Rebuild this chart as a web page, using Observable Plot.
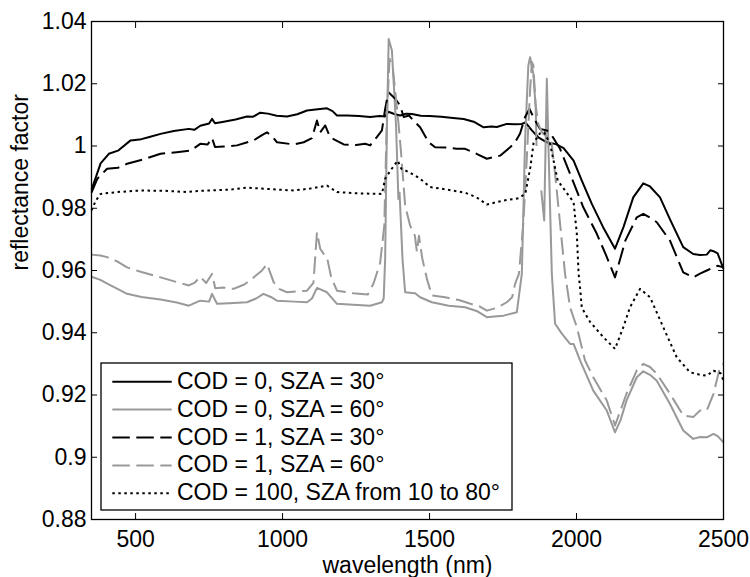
<!DOCTYPE html>
<html><head><meta charset="utf-8">
<script src="https://cdn.jsdelivr.net/npm/d3@7"></script>
<script src="https://cdn.jsdelivr.net/npm/@observablehq/plot@0.6"></script>
<style>
body{margin:0;background:#fff}
svg{font-family:"Liberation Sans",Arial,Helvetica,sans-serif}
</style>
</head><body><div id="chart"></div>
<script>
// ---- data ----
const xTicks = [500, 1000, 1500, 2000, 2500];
const yTicks = [0.88, 0.9, 0.92, 0.94, 0.96, 0.98, 1, 1.02, 1.04];
const xLabel = "wavelength (nm)";
const yLabel = "reflectance factor";
const seriesNames = [
  "COD = 0, SZA = 30°",
  "COD = 0, SZA = 60°",
  "COD = 1, SZA = 30°",
  "COD = 1, SZA = 60°",
  "COD = 100, SZA from 10 to 80°"
];

// [wavelength nm, reflectance factor]
const cod0sza30 = [
  [350,0.986],[365,0.990],[381,0.9944],[409,0.9975],[440,0.9985],[483,1.0018],[520,1.0022],[550,1.0030],
  [585,1.0039],[630,1.0048],[681,1.0055],[700,1.0052],[720,1.0065],[750,1.0072],[760,1.0087],[770,1.0073],
  [800,1.0078],[840,1.0085],[879,1.0095],[900,1.0094],[924,1.0107],[950,1.0104],[980,1.0097],[1015,1.0095],
  [1050,1.0102],[1083,1.0114],[1120,1.0118],[1151,1.0121],[1170,1.0112],[1185,1.0098],[1220,1.0098],
  [1260,1.0096],[1298,1.0093],[1330,1.0096],[1349,1.0095],[1360,1.0110],[1380,1.0103],[1400,1.0098],
  [1420,1.0104],[1440,1.0103],[1470,1.0097],[1500,1.0096],[1540,1.0094],[1580,1.0090],[1616,1.0087],
  [1650,1.0078],[1684,1.0060],[1710,1.0063],[1729,1.0061],[1763,1.0071],[1790,1.0070],[1814,1.0071],
  [1826,1.0076],[1848,1.0050],[1870,1.0028],[1899,1.0012],[1930,1.0006],[1956,0.9993],[1990,0.9953],
  [2018,0.9889],[2052,0.9814],[2090,0.9740],[2131,0.9670],[2160,0.9740],[2193,0.9835],[2227,0.9880],
  [2250,0.9870],[2284,0.9835],[2320,0.9760],[2363,0.9675],[2397,0.9653],[2420,0.9650],[2443,0.9651],
  [2455,0.9665],[2466,0.9662],[2480,0.9655],[2500,0.9605]
];
const cod0sza60 = [
  [350,0.9580],[380,0.9570],[415,0.9552],[440,0.9540],[471,0.9525],[520,0.9515],[585,0.9507],[640,0.9497],
  [681,0.9487],[720,0.9503],[750,0.9500],[760,0.9525],[777,0.9493],[820,0.9495],[879,0.9498],[910,0.9510],
  [935,0.9525],[960,0.9515],[981,0.9503],[1040,0.9500],[1083,0.9498],[1100,0.9510],[1117,0.9544],
  [1151,0.9530],[1185,0.9493],[1240,0.9490],[1298,0.9487],[1338,0.9498],[1344,0.9510],[1349,0.9638],
  [1355,1.0066],[1361,1.0344],[1372,1.0307],[1386,1.0066],[1394,0.9830],[1398,0.9850],[1408,0.9637],
  [1417,0.9530],[1440,0.9528],[1451,0.9527],[1468,0.9514],[1508,0.9498],[1565,0.9487],[1621,0.9482],
  [1660,0.9470],[1695,0.9450],[1720,0.9452],[1752,0.9455],[1797,0.9466],[1814,0.9590],[1825,1.0018],
  [1836,1.0258],[1842,1.0285],[1853,1.0232],[1861,1.0125],[1864,1.0000],[1870,null],[1880,0.9857],
  [1890,0.9761],[1899,1.0216],[1904,1.0018],[1910,0.9803],[1916,0.9589],[1927,0.9429],[1950,0.9397],
  [1978,0.9364],[1990,0.9364],[2012,0.9311],[2057,0.9214],[2103,0.9150],[2131,0.9080],[2150,0.9120],
  [2170,0.9182],[2205,0.9257],[2227,0.9276],[2250,0.9265],[2273,0.9246],[2318,0.9171],[2363,0.9086],
  [2397,0.9059],[2420,0.9065],[2443,0.9064],[2466,0.9075],[2480,0.9068],[2500,0.9048]
];
const cod1sza30 = [
  [350,0.985],[370,0.9895],[403,0.9927],[440,0.9930],[471,0.9943],[530,0.9958],[585,0.9975],[640,0.9980],
  [687,0.9985],[720,1.0007],[745,1.0005],[760,1.0026],[770,0.9997],[800,0.9998],[845,1.0002],[902,1.0018],
  [930,1.0035],[947,1.0044],[965,1.0030],[981,1.0012],[1038,1.0005],[1072,1.0012],[1100,1.0025],
  [1117,1.0082],[1128,1.0044],[1145,1.0066],[1162,1.0028],[1208,1.0005],[1250,1.0003],[1281,1.0007],
  [1298,1.0002],[1320,1.0028],[1338,1.0050],[1349,1.0119],[1360,1.0173],[1383,1.0152],[1400,1.0130],
  [1412,1.0093],[1430,1.0098],[1451,1.0076],[1468,1.0060],[1497,1.0012],[1519,0.9996],[1560,0.9995],
  [1593,0.9991],[1621,0.9991],[1660,0.9975],[1695,0.9959],[1740,0.9969],[1774,0.9996],[1790,1.0010],
  [1808,1.0040],[1825,1.0093],[1840,1.0119],[1859,1.0082],[1876,1.0055],[1899,1.0050],[1916,1.0034],
  [1944,0.9991],[1978,0.9911],[2023,0.9803],[2069,0.9718],[2100,0.9650],[2131,0.9578],[2166,0.9696],
  [2205,0.9771],[2227,0.9782],[2250,0.9770],[2273,0.9755],[2318,0.9696],[2363,0.9594],[2397,0.9578],
  [2420,0.9590],[2443,0.9600],[2466,0.9610],[2480,0.9615],[2500,0.9610]
];
const cod1sza60 = [
  [350,0.9651],[380,0.9648],[403,0.9643],[440,0.9628],[471,0.9610],[520,0.9595],[585,0.9578],[640,0.9563],
  [681,0.9552],[700,0.9560],[720,0.9580],[740,0.9560],[760,0.9589],[771,0.9543],[800,0.9545],[833,0.9541],
  [870,0.9555],[902,0.9578],[930,0.9600],[947,0.9621],[970,0.9562],[990,0.9540],[1015,0.9530],
  [1050,0.9533],[1083,0.9535],[1105,0.9560],[1117,0.9723],[1128,0.9670],[1140,0.9653],[1151,0.9643],
  [1165,0.9580],[1185,0.9535],[1240,0.9527],[1290,0.9523],[1310,0.9560],[1332,0.9625],[1346,0.9744],
  [1355,1.0100],[1364,1.0280],[1375,1.0250],[1386,1.0150],[1394,1.0076],[1403,0.9980],[1417,0.9809],
  [1434,0.9744],[1450,0.9712],[1457,0.9660],[1464,0.9712],[1475,0.9640],[1491,0.9573],[1508,0.9520],
  [1553,0.9514],[1600,0.9505],[1639,0.9493],[1670,0.9485],[1695,0.9471],[1729,0.9480],[1763,0.9498],
  [1781,0.9514],[1791,0.9557],[1804,0.9589],[1819,0.9751],[1831,0.9964],[1842,1.0178],[1848,1.0270],
  [1853,1.0260],[1861,1.0131],[1870,1.0070],[1885,1.0040],[1900,1.0030],[1915,1.0010],[1927,0.9911],
  [1944,0.9751],[1961,0.9589],[1978,0.9482],[2001,0.9418],[2029,0.9311],[2057,0.9257],[2103,0.9182],
  [2131,0.9102],[2170,0.9204],[2205,0.9279],[2227,0.9300],[2250,0.9290],[2273,0.9268],[2318,0.9204],
  [2363,0.9134],[2397,0.9129],[2420,0.9150],[2443,0.9150],[2466,0.9204],[2488,0.9289],[2500,0.9300]
];
const cod100 = [
  [350,0.9793],[365,0.9825],[381,0.9846],[437,0.9852],[517,0.9857],[600,0.9856],[676,0.9852],[720,0.9856],
  [755,0.9857],[820,0.9860],[879,0.9866],[950,0.9862],[1038,0.9857],[1100,0.9864],[1151,0.9873],
  [1185,0.9852],[1250,0.9848],[1338,0.9846],[1349,0.9895],[1370,0.9925],[1392,0.9953],[1404,0.9927],
  [1430,0.9916],[1468,0.9895],[1502,0.9868],[1560,0.9860],[1621,0.9850],[1660,0.9835],[1695,0.9812],
  [1752,0.9825],[1803,0.9832],[1826,0.9847],[1843,0.9932],[1854,1.0010],[1875,1.0040],[1890,1.0044],
  [1910,1.0007],[1936,0.9889],[1978,0.9835],[1990,0.9820],[2001,0.9718],[2007,0.9590],[2012,0.9546],
  [2018,0.9480],[2046,0.9435],[2091,0.9386],[2131,0.9348],[2160,0.9420],[2182,0.9482],[2216,0.9541],
  [2250,0.9514],[2295,0.9418],[2341,0.9321],[2386,0.9273],[2420,0.9265],[2443,0.9262],[2466,0.9278],
  [2490,0.9270],[2500,0.9246]
];

// ---- styles ----
const GRAY = "#999999";
const styles = [
  {stroke: "#000", dash: null},
  {stroke: GRAY, dash: null},
  {stroke: "#000", dash: "17.5,6.5"},
  {stroke: GRAY, dash: "17.5,6.5"},
  {stroke: "#000", dash: "2.5,3.5"}
];
const allSeries = [cod0sza30, cod0sza60, cod1sza30, cod1sza60, cod100];
const toRows = arr => arr.map(([w, v]) => ({w, v}));

const fmtY = d => String(+d.toFixed(2));
const fmtX = d => String(d);

const plot = Plot.plot({
  width: 750,
  height: 577,
  marginLeft: 91,
  marginRight: 27,
  marginTop: 21,
  marginBottom: 58,
  style: {fontFamily: "'Liberation Sans', Arial, Helvetica, sans-serif", fontSize: "23px", background: "#fff", color: "#000"},
  x: {domain: [350, 2500]},
  y: {domain: [0.88, 1.04]},
  marks: [
    ...allSeries.map((s, i) => Plot.line(toRows(s), {
      x: "w", y: "v", stroke: styles[i].stroke, strokeWidth: 2,
      strokeDasharray: styles[i].dash ?? undefined, strokeLinejoin: "round", strokeLinecap: "butt"
    })),
    Plot.frame({stroke: "#000", strokeWidth: 1.3}),
    Plot.axisX(xTicks, {anchor: "bottom", tickSize: -6, tickPadding: 17, tickFormat: fmtX, label: null, fontSize: 23}),
    Plot.axisX(xTicks, {anchor: "top", tickSize: -6, tickFormat: () => "", label: null}),
    Plot.axisY(yTicks, {anchor: "left", tickSize: -6, tickPadding: 11, tickFormat: fmtY, label: null, fontSize: 23}),
    Plot.axisY(yTicks, {anchor: "right", tickSize: -6, tickFormat: () => "", label: null}),
    Plot.text([xLabel], {text: d => d, frameAnchor: "bottom", dy: 53, fontSize: 23}),
    Plot.text([yLabel], {text: d => d, frameAnchor: "left", rotate: -90, dx: -71, fontSize: 23})
  ]
});

// ---- legend inside the axes (lower left) ----
const svg = d3.select(plot);
const lg = svg.append("g").attr("class", "legend").attr("text-anchor", "start");
lg.append("rect")
  .attr("x", 101).attr("y", 363).attr("width", 411).attr("height", 147)
  .attr("fill", "#fff").attr("stroke", "#000").attr("stroke-width", 1.3);
seriesNames.forEach((name, i) => {
  const cy = 381.7 + i * 27.9;
  lg.append("line")
    .attr("x1", 112.3).attr("x2", 171.7).attr("y1", cy).attr("y2", cy)
    .attr("stroke", styles[i].stroke).attr("stroke-width", 2)
    .attr("stroke-dasharray", styles[i].dash);
  lg.append("text")
    .attr("x", 177).attr("y", cy + 7).attr("font-size", 23).attr("fill", "#000")
    .attr("text-anchor", "start")
    .text(name);
});

document.getElementById("chart").appendChild(plot);
</script>
</body></html>
